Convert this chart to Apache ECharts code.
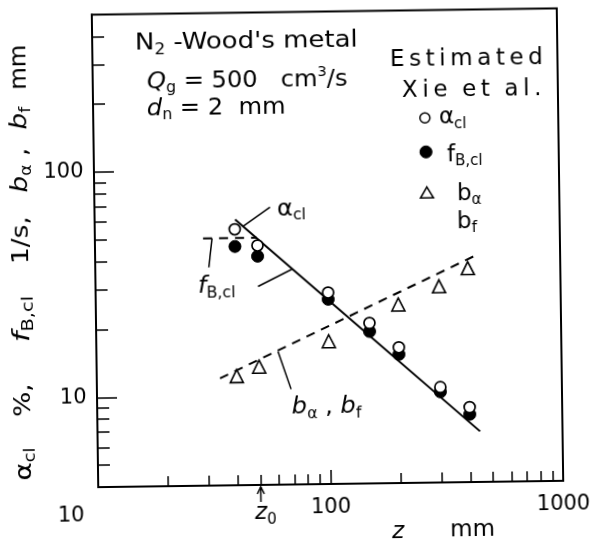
<!DOCTYPE html>
<html><head><meta charset="utf-8">
<script src="https://cdn.jsdelivr.net/npm/echarts@6/dist/echarts.min.js"></script>
<style>
html,body{margin:0;padding:0;background:#fff;overflow:hidden}
#c{width:597px;height:542px;transform:rotate(-0.78deg);transform-origin:327.5px 247.75px}
</style>
</head><body><div id="c"></div>
<script>
// ---- data ----
const zPoints   = [40, 50, 100, 150, 200, 300, 400];           // z, mm
const alphaCl   = [54.7, 46.2, 28.3, 20.6, 16.0, 10.6, 8.6];     // open circles
const fBcl      = [45.9, 41.4, 26.4, 18.9, 14.9, 10.1, 8.0];     // filled circles
const zB        = [40, 50, 100, 200, 300, 400];
const bAlpha    = [12.2, 13.4, 17.2, 24.8, 29.7, 35.6];          // triangles
const fitZ      = [40.2, 442];
const fitAlpha  = [60.5, 6.71];                                  // solid line
const fitBZ     = [33.9, 444];
const fitB      = [11.95, 41.0];                                 // dashed line
const plateauZ  = [29.2, 49.7];
const plateauF  = [50.0, 50.0];                                  // dashed horizontal
const leaderAlphaZ = [43.5, 56.9], leaderAlphaV = [56.3, 68.2];
const leaderF1Z    = [31.9, 30.8], leaderF1V    = [50.0, 37.2];
const leaderF2Z    = [50.0, 70.1], leaderF2V    = [30.4, 36.1];
const leaderBZ     = [60.4, 68.4], leaderBV     = [15.6, 10.6];
const xMajorTicks = [10, 100, 1000];
const xMinorTicks = [20,30,40,50,60,70,80,90,200,300,400,500,600,700,800,900];
const yMajorTicks = [10, 100];
const yMinorTicks = [5,6,7,8,9,20,30,40,50,60,70,80,90,200,300,400];
const z0 = 50;

const FF = 'DejaVu Sans';
const pairs = (xs, ys) => xs.map((x, i) => [x, ys[i]]);

const chart = echarts.init(document.getElementById('c'), null, {renderer: 'canvas'});

function lineSeries(xs, ys, dashed, width) {
  return {
    type: 'line', data: pairs(xs, ys), showSymbol: false, symbol: 'none',
    lineStyle: {color: '#000', width: width || 2, type: dashed ? [9, 7] : 'solid', opacity: 1},
    silent: true, z: 2, animation: false
  };
}

const axisBase = {
  type: 'log', logBase: 10, splitLine: {show: false}, minorTick: {show: false}
};

const option = {
  animation: false,
  backgroundColor: '#fff',
  grid: {left: 95, right: 37, top: 11.5, bottom: 58, show: true, borderColor: '#000', borderWidth: 2,
         containLabel: false, outerBoundsMode: 'none'},
  xAxis: [
    Object.assign({}, axisBase, {
      min: 10, max: 1000, position: 'bottom',
      axisLine: {show: true, lineStyle: {color: '#000', width: 2}},
      axisTick: {show: true, inside: true, length: 14, customValues: xMajorTicks, lineStyle: {color: '#000', width: 1.5}},
      axisLabel: {show: true, customValues: xMajorTicks, showMinLabel: true, showMaxLabel: true, margin: 13,
        formatter: v => { const r = Math.round(v); return r === 10 ? '{l|10}' : '{n|' + r + '}'; },
        rich: {
          n: {fontSize: 21, fontFamily: FF, color: '#000'},
          l: {fontSize: 21, fontFamily: FF, color: '#000', padding: [5, 55, 0, 0]}
        }}
    }),
    Object.assign({}, axisBase, {
      min: 10, max: 1000, position: 'bottom',
      axisLine: {show: false},
      axisTick: {show: true, inside: true, length: 10, customValues: xMinorTicks, lineStyle: {color: '#000', width: 1.5}},
      axisLabel: {show: false}
    })
  ],
  yAxis: [
    Object.assign({}, axisBase, {
      min: 4, max: 500, position: 'left',
      axisLine: {show: true, lineStyle: {color: '#000', width: 2}},
      axisTick: {show: true, inside: true, length: 20, customValues: yMajorTicks, lineStyle: {color: '#000', width: 1.5}},
      axisLabel: {show: true, customValues: yMajorTicks, showMinLabel: true, showMaxLabel: true, margin: 0,
        align: 'right', fontSize: 21, fontFamily: FF, color: '#000',
        formatter: v => String(Math.round(v)) + '\u2002'}
    }),
    Object.assign({}, axisBase, {
      min: 4, max: 500, position: 'left',
      axisLine: {show: false},
      axisTick: {show: true, inside: true, length: 12, customValues: yMinorTicks, lineStyle: {color: '#000', width: 1.5}},
      axisLabel: {show: false}
    })
  ],
  series: [
    lineSeries(fitZ, fitAlpha, false, 2),
    lineSeries(fitBZ, fitB, true, 2),
    lineSeries(plateauZ, plateauF, true, 2),
    lineSeries(leaderAlphaZ, leaderAlphaV, false, 1.5),
    lineSeries(leaderF1Z, leaderF1V, false, 1.5),
    lineSeries(leaderF2Z, leaderF2V, false, 1.5),
    lineSeries(leaderBZ, leaderBV, false, 1.5),
    {type: 'scatter', name: 'b', data: pairs(zB, bAlpha), symbol: 'triangle', symbolSize: 13,
     itemStyle: {color: '#fff', borderColor: '#000', borderWidth: 1.6, opacity: 1}, z: 3},
    {type: 'scatter', name: 'f', data: pairs(zPoints, fBcl), symbol: 'circle', symbolSize: 12,
     itemStyle: {color: '#000', borderColor: '#000', borderWidth: 1, opacity: 1}, z: 4},
    {type: 'scatter', name: 'alpha', data: pairs(zPoints, alphaCl), symbol: 'circle', symbolSize: 11,
     itemStyle: {color: '#fff', borderColor: '#000', borderWidth: 1.7, opacity: 1}, z: 5}
  ]
};
chart.setOption(option);

// ---- annotations ----
function R(size, extra) { return Object.assign({fontSize: size, fontFamily: FF, fill: '#000'}, extra || {}); }
const rich = {
  m:  R(23, {lineHeight: 28}),
  i:  R(23, {lineHeight: 28, fontStyle: 'italic'}),
  s:  R(15, {lineHeight: 12, verticalAlign: 'bottom'}),
  si: R(15, {lineHeight: 12, verticalAlign: 'bottom', fontStyle: 'italic'}),
  p:  R(14, {lineHeight: 14, verticalAlign: 'top'})
};
function txt(x, y, text, opts) {
  opts = opts || {};
  return {
    type: 'text', x: x, y: y, rotation: opts.rotation || 0, scaleX: opts.scaleX || 1, z: 100, silent: true,
    style: {text: text, rich: rich, fontSize: 23, fontFamily: FF, fill: '#000',
            align: opts.align || 'left', verticalAlign: opts.va || 'middle'}
  };
}
const TS = '\u2009';
const spaced = s => s.split('').join(TS);
const vt = (y, text, sc) => txt(22, y, text, {rotation: Math.PI / 2, align: 'center', scaleX: sc || 1.15});

const zx = chart.convertToPixel({xAxisIndex: 0}, z0);
const gridBottom = 542 - 58;

const graphics = [
  txt(137.7, 41.5, '{m|N}{s|2}{m| -Wood\'s metal}', {scaleX: 1.13}),
  txt(149.2, 79.6, '{i|Q}{s|g}{m| = 500   cm}{p|3}{m|/s}', {scaleX: 1.05}),
  txt(148.8, 107.1, '{i|d}{s|n}{m| = 2  mm}', {scaleX: 1.05}),
  txt(392.5, 60.8, '{m|' + spaced('Estimated') + '}'),
  txt(404.1, 92, '{m|' + spaced('Xie') + '  ' + spaced('et') + '  ' + spaced('al.') + '}'),
  txt(440.7, 119.5, '{m|α}{s|cl}'),
  txt(448.2, 156.6, '{m|f}{s|B,cl}'),
  txt(457.7, 195.7, '{m|b}{s|α}'),
  txt(457.3, 223.7, '{m|b}{s|f}'),
  // in-plot labels
  txt(277.5, 208.8, '{m|α}{s|cl}', {scaleX: 1.05}),
  txt(197.5, 285.3, '{i|f}{s|B,cl}', {scaleX: 1.05}),
  txt(289.6, 407.5, '{i|b}{s|α}{m| , }{i|b}{s|f}', {scaleX: 1.05}),
  // legend symbols
  {type: 'circle', shape: {cx: 426.7, cy: 119.3, r: 5}, style: {fill: '#fff', stroke: '#000', lineWidth: 1.5}, z: 100},
  {type: 'circle', shape: {cx: 427.3, cy: 153.3, r: 6}, style: {fill: '#000', stroke: '#000', lineWidth: 1}, z: 100},
  {type: 'polygon', shape: {points: [[427.7, 188.3], [434.2, 199.3], [421.2, 199.3]]},
   style: {fill: '#fff', stroke: '#000', lineWidth: 1.5}, z: 100},
  // y axis title, in pieces
  vt(460, '{m|α}{s|cl}', 1.2),
  vt(396, '{m|%,}'),
  vt(315, '{i|f}{s|B,cl}', 1.3),
  vt(236, '{m|1/s,}'),
  vt(166, '{i|b}{s|α}{m| ,}'),
  vt(114, '{i|b}{s|f}'),
  vt(63, '{m|mm}', 1.0),
  // x axis title
  txt(388.3, 532.8, '{i|z}'),
  txt(446.3, 531.6, '{m|mm}'),
  txt(251.5, 512.2, '{i|z}{s|0}'),
  // z0 arrow
  {type: 'line', shape: {x1: zx, y1: gridBottom + 17, x2: zx, y2: gridBottom + 2}, style: {stroke: '#000', lineWidth: 1.5}, z: 100},
  {type: 'polyline', shape: {points: [[zx - 3.5, gridBottom + 9], [zx, gridBottom + 2], [zx + 3.5, gridBottom + 9]]},
   style: {stroke: '#000', lineWidth: 1.5, fill: null}, z: 100}
];
chart.setOption({graphic: graphics});
</script>
</body></html>
